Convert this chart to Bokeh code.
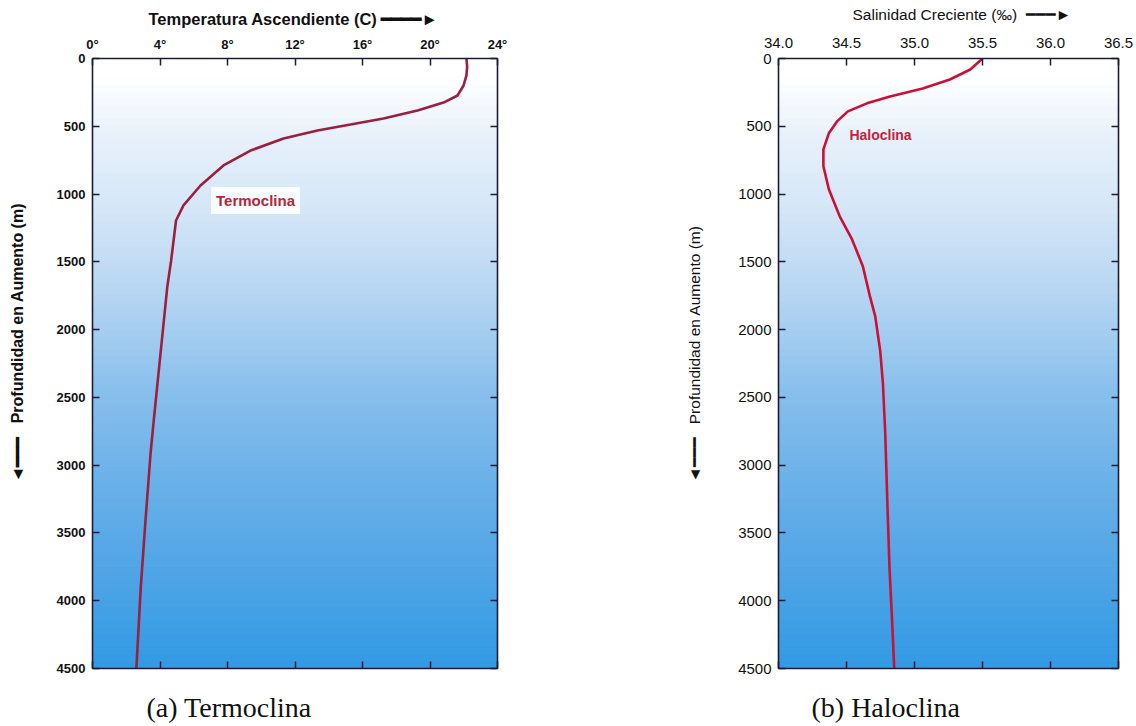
import numpy as np
from bokeh.plotting import figure
from bokeh.models import Range1d, LinearAxis, FixedTicker, Label, Title
from bokeh.layouts import row
from bokeh.embed import file_html
from bokeh.resources import INLINE

# ---------------- data ----------------
temp_depth = [0, 60, 125, 199, 273, 325, 384, 443, 487, 531, 590, 679, 789, 937,
              1084, 1195, 1490, 1687, 2178, 2670, 2914, 3408, 3902, 4500]
temp_vals = [22.16, 22.2, 22.16, 21.99, 21.63, 20.80, 19.26, 17.24, 15.29, 13.33,
             11.32, 9.36, 7.76, 6.40, 5.39, 4.95, 4.66, 4.43, 4.03, 3.63, 3.44,
             3.14, 2.86, 2.60]

sal_depth = [0, 81, 155, 221, 280, 331, 390, 464, 552, 670, 795, 965, 1164, 1333,
             1532, 1753, 1900, 2158, 2401, 2769, 3263, 3756, 4124, 4500]
sal_vals = [35.50, 35.41, 35.26, 35.06, 34.82, 34.65, 34.51, 34.43, 34.37, 34.33,
            34.33, 34.37, 34.45, 34.54, 34.62, 34.672, 34.711, 34.748, 34.768,
            34.785, 34.800, 34.816, 34.834, 34.851]

temp_ticks = [0, 4, 8, 12, 16, 20, 24]
temp_labels = ["0°", "4°", "8°", "12°", "16°", "20°", "24°"]
sal_ticks = [34.0, 34.5, 35.0, 35.5, 36.0, 36.5]
sal_labels = ["34.0", "34.5", "35.0", "35.5", "36.0", "36.5"]
depth_ticks = [0, 500, 1000, 1500, 2000, 2500, 3000, 3500, 4000, 4500]
depth_labels = ["0", "500", "1000", "1500", "2000", "2500", "3000", "3500", "4000", "4500"]

NB = "\u00a0"
temp_title = "Temperatura Ascendiente (C)" + NB + "━━━━►"
sal_title = "Salinidad Creciente (‰)" + NB * 2 + "━━━►"
depth_title = "◄━━━" + NB * 3 + "Profundidad en Aumento (m)"
cap_a = "(a) Termoclina"
cap_b = "(b) Haloclina"

# ---------------- style ----------------
AX = "#1c1c34"
stops_f = [0.0, 0.03, 0.12, 0.25, 0.35, 0.45, 0.55, 0.70, 0.85, 1.0]
stops_c = [(255, 255, 255), (255, 255, 255), (233, 242, 251), (212, 230, 247),
           (190, 218, 243), (165, 205, 240), (135, 190, 236), (105, 176, 233),
           (78, 164, 230), (50, 154, 228)]


def band_colors(n):
    cols = []
    for i in range(n):
        f = (i + 0.5) / n
        rgb = [int(round(np.interp(f, stops_f, [c[k] for c in stops_c]))) for k in range(3)]
        cols.append("#%02x%02x%02x" % tuple(rgb))
    return cols


def spacer(size, tick):
    # an invisible axis whose only job is to reserve empty border space
    ax = LinearAxis(ticker=FixedTicker(ticks=[tick]))
    ax.axis_line_color = None
    ax.major_tick_out = size
    ax.major_tick_in = 0
    ax.minor_tick_out = 0
    ax.minor_tick_in = 0
    ax.major_tick_line_color = None
    ax.major_label_overrides = {tick: ""}
    ax.major_label_text_font_size = "0px"
    ax.major_label_standoff = 0
    return ax


def make_fig(xr, frame_w, bl, br, xticks, xlabels, tick_size, tick_style, top_standoff):
    p = figure(frame_width=frame_w, frame_height=610, x_range=xr,
               y_range=Range1d(4500, 0), x_axis_location="above",
               toolbar_location=None, output_backend="svg",
               min_border_left=bl, min_border_right=br,
               min_border_top=58, min_border_bottom=56)
    p.xgrid.visible = False
    p.ygrid.visible = False
    p.outline_line_color = None
    p.background_fill_color = "white"
    p.border_fill_color = "white"

    n = 90
    edges = np.linspace(0, 4500, n + 1)
    cols = band_colors(n)
    p.quad(left=xr.start, right=xr.end, top=edges[:-1], bottom=edges[1:],
           fill_color=cols, line_color=cols, line_width=1)

    def style(ax, ticks, labels, show, standoff=7):
        ax.ticker = FixedTicker(ticks=ticks)
        ax.major_tick_in = 7
        ax.major_tick_out = 0
        ax.minor_tick_in = 0
        ax.minor_tick_out = 0
        ax.axis_line_color = AX
        ax.axis_line_width = 1.6
        ax.major_tick_line_color = AX
        ax.major_tick_line_width = 1.5
        if show:
            ax.major_label_overrides = {t: l for t, l in zip(ticks, labels)}
            ax.major_label_text_font = "Liberation Sans"
            ax.major_label_text_font_size = tick_size
            ax.major_label_text_font_style = tick_style
            ax.major_label_text_color = "#111111"
            ax.major_label_standoff = standoff
        else:
            ax.major_label_overrides = {t: "" for t in ticks}
            ax.major_label_text_font_size = "0px"
            ax.major_label_standoff = 0

    style(p.xaxis[0], xticks, xlabels, True, top_standoff)
    style(p.yaxis[0], depth_ticks, depth_labels, True)
    ax_r = LinearAxis()
    style(ax_r, depth_ticks, depth_labels, False)
    p.add_layout(ax_r, "right")
    ax_b = LinearAxis()
    style(ax_b, xticks, xlabels, False)
    p.add_layout(ax_b, "below")
    return p


# ---------------- left: Termoclina ----------------
p1 = make_fig(Range1d(0, 24), 405, 92, 100, temp_ticks, temp_labels, "13px", "bold", 7)
p1.line(temp_vals, temp_depth, line_color="#9c1f3f", line_width=2.6)
p1.add_layout(Label(x=9.66, y=1048, text="Termoclina", text_align="center",
                    text_baseline="middle", text_font="Liberation Sans",
                    text_font_size="15px", text_font_style="bold",
                    text_color="#b0283a", background_fill_color="white",
                    background_fill_alpha=0.85, padding=5))
p1.add_layout(spacer(6, 12), "above")
p1.add_layout(Title(text=temp_title, align="left", offset=56, standoff=0,
                    text_font="Liberation Sans", text_font_size="16.5px",
                    text_font_style="bold", text_color="#111111"), "above")
p1.add_layout(spacer(28, 2000), "left")
p1.add_layout(Title(text=depth_title, align="left", offset=186, standoff=0,
                    text_font="Liberation Sans", text_font_size="16px",
                    text_font_style="bold", text_color="#111111"), "left")
p1.add_layout(spacer(21, 12), "below")
p1.add_layout(Title(text=cap_a, align="left", offset=54, standoff=0,
                    text_font="Liberation Serif", text_font_size="28px",
                    text_font_style="normal", text_color="#111111"), "below")

# ---------------- right: Haloclina ----------------
p2 = make_fig(Range1d(34.0, 36.5), 340, 181, 17, sal_ticks, sal_labels, "15px", "normal", 11)
p2.line(sal_vals, sal_depth, line_color="#cc1035", line_width=2.6)
p2.add_layout(Label(x=34.75, y=568, text="Haloclina", text_align="center",
                    text_baseline="middle", text_font="Liberation Sans",
                    text_font_size="14px", text_font_style="bold",
                    text_color="#c8203f"))
p2.add_layout(spacer(12, 35.0), "above")
p2.add_layout(Title(text=sal_title, align="left", offset=74, standoff=0,
                    text_font="Liberation Sans", text_font_size="15.5px",
                    text_font_style="normal", text_color="#111111"), "above")
p2.add_layout(spacer(33, 2000), "left")
p2.add_layout(Title(text=depth_title, align="left", offset=186, standoff=0,
                    text_font="Liberation Sans", text_font_size="15.5px",
                    text_font_style="normal", text_color="#111111"), "left")
p2.add_layout(spacer(21, 35.0), "below")
p2.add_layout(Title(text=cap_b, align="left", offset=33, standoff=0,
                    text_font="Liberation Serif", text_font_size="28px",
                    text_font_style="normal", text_color="#111111"), "below")

layout = row(p1, p2)
open("out.html", "w").write(file_html(layout, INLINE))
